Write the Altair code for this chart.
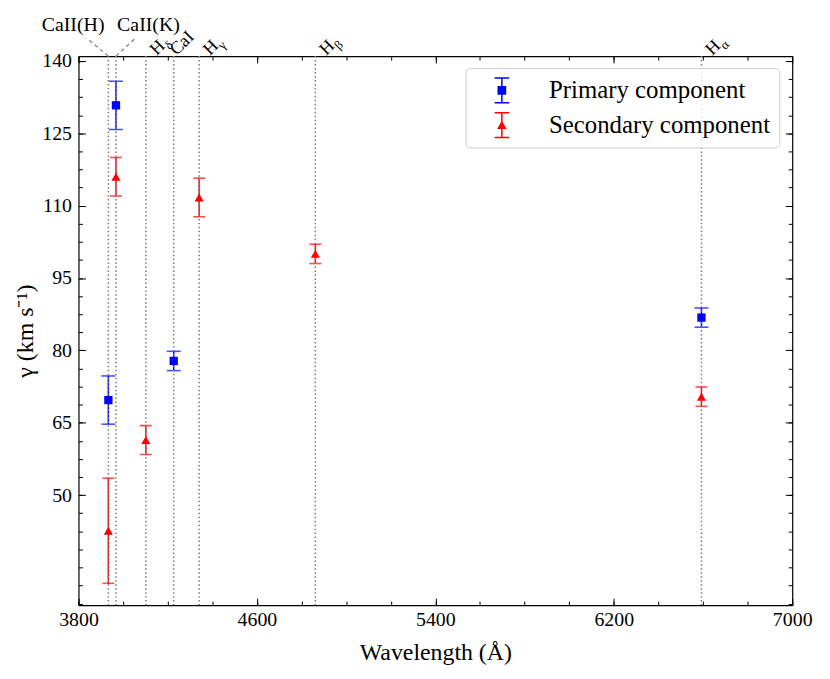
import altair as alt
import pandas as pd

FONT = "Liberation Serif"
W, H = 719, 553

# ---------------- data ----------------
prim_label = "Primary component"
sec_label = "Secondary component"

prim_wl = [3934, 3968, 4227, 6593]
prim_gamma = [69.7, 130.8, 77.8, 86.8]
prim_err = [5.0, 5.0, 2.0, 2.0]

sec_wl = [3934, 3968, 4102, 4341, 4862, 6593]
sec_gamma = [42.6, 116.0, 61.4, 111.7, 100.0, 70.4]
sec_err = [10.9, 4.0, 3.0, 4.0, 2.0, 2.0]

# spectral lines (vertical dotted lines)
line_wl = [3934, 3968, 4102, 4227, 4341, 4862, 6593]

# rotated labels at the top
h_wl = [4102, 4341, 4862, 6593]
h_main = ["H", "H", "H", "H"]
h_sub = ["δ", "γ", "β", "α"]
cai_wl = [4227]
cai_text = ["CaI"]

# annotated labels (text position + connector start, data coords)
ann_text = ["CaII(H)", "CaII(K)"]
ann_line_wl = [3934, 3968]
ann_text_wl = [3776, 4114]
ann_text_y = [146.3, 146.3]
ann_conn_wl = [3838, 4055]
ann_conn_y = [144.7, 144.7]

# axes
X_DOMAIN = [3800, 7000]
Y_DOMAIN = [27.2, 141]
x_major = [3800, 4600, 5400, 6200, 7000]
x_minor = [3800 + 200 * i for i in range(17)]
y_major = [50, 65, 80, 95, 110, 125, 140]
y_minor = [27.5 + 3.75 * i for i in range(31)]

# ---------------- tables ----------------
pts = pd.DataFrame({
    "wl": prim_wl + sec_wl,
    "gamma": prim_gamma + sec_gamma,
    "err": prim_err + sec_err,
    "series": [prim_label] * len(prim_wl) + [sec_label] * len(sec_wl),
})
pts["lo"] = pts["gamma"] - pts["err"]
pts["hi"] = pts["gamma"] + pts["err"]

lines_df = pd.DataFrame({"wl": line_wl})
h_df = pd.DataFrame({"wl": h_wl, "t": h_main, "s": h_sub})
h_df["ytop"] = Y_DOMAIN[1]
cai_df = pd.DataFrame({"wl": cai_wl, "t": cai_text})
cai_df["ytop"] = Y_DOMAIN[1]
ann_df = pd.DataFrame({
    "t": ann_text, "line": ann_line_wl, "tx": ann_text_wl, "ty": ann_text_y,
    "cx": ann_conn_wl, "cy": ann_conn_y,
})
ann_df["ytop"] = Y_DOMAIN[1]

xs = alt.Scale(domain=X_DOMAIN, nice=False, zero=False)
ys = alt.Scale(domain=Y_DOMAIN, nice=False, zero=False)
SERIES = [prim_label, sec_label]
COLORS = ["#0000ff", "#ff0000"]
cscale = alt.Scale(domain=SERIES, range=COLORS)

P_PATH = ("M-0.55,-1H0.55V-0.89H-0.55Z M-0.55,0.89H0.55V1H-0.55Z "
          "M-0.057,-1H0.057V1H-0.057Z M-0.33,-0.33H0.33V0.33H-0.33Z")
S_PATH = ("M-0.55,-1H0.55V-0.89H-0.55Z M-0.55,0.89H0.55V1H-0.55Z "
          "M-0.057,-1H0.057V1H-0.057Z M0,-0.36L0.36,0.3H-0.36Z")
sscale = alt.Scale(domain=SERIES, range=[P_PATH, S_PATH])


def tick_axis(orient, values, size, offset, domain=False):
    return alt.Axis(orient=orient, values=values, tickSize=size, ticks=True,
                    labels=False, domain=domain, offset=offset, grid=False,
                    title=None, tickColor="black", tickWidth=1,
                    domainColor="black", domainWidth=1.2)


ax_x_labels = alt.Axis(orient="bottom", values=x_major, ticks=False, tickSize=0,
                       domain=True, domainColor="black", domainWidth=1.2,
                       grid=False, format="d", labelFlush=False,
                       labelFont=FONT, labelFontSize=20, labelColor="black",
                       labelPadding=5, title="Wavelength (Å)", titleFont=FONT,
                       titleFontSize=24, titleFontWeight="normal",
                       titleColor="black", titlePadding=11)
ax_y_labels = alt.Axis(orient="left", values=y_major, ticks=False, tickSize=0,
                       domain=True, domainColor="black", domainWidth=1.2,
                       grid=False, format="d", labelFlush=False,
                       labelFont=FONT, labelFontSize=20, labelColor="black",
                       labelPadding=7, title="γ (km s⁻¹)", titleFont=FONT,
                       titleFontSize=24, titleFontWeight="normal",
                       titleColor="black", titlePadding=4)

ax_x_bot_major = tick_axis("top", x_major, 7, -H)
ax_x_bot_minor = tick_axis("top", x_minor, 4, -H)
ax_x_top_major = tick_axis("bottom", x_major, 7, -H, domain=True)
ax_x_top_minor = tick_axis("bottom", x_minor, 4, -H)
ax_y_left_major = tick_axis("right", y_major, 7, -W)
ax_y_left_minor = tick_axis("right", y_minor, 4, -W)
ax_y_right_major = tick_axis("left", y_major, 7, -W, domain=True)
ax_y_right_minor = tick_axis("left", y_minor, 4, -W)


def X(axis, field="wl:Q"):
    return alt.X(field, scale=xs, axis=axis)


def Y(field, axis):
    return alt.Y(field, scale=ys, axis=axis)


series_color = alt.condition(alt.datum.series == prim_label,
                             alt.value(COLORS[0]), alt.value(COLORS[1]))
cap_size = alt.condition(alt.datum.series == prim_label, alt.value(14), alt.value(12))

stems = alt.Chart(pts).mark_rule(strokeWidth=1.5).encode(
    x=X(ax_x_labels), y=Y("lo:Q", ax_y_labels), y2="hi:Q", color=series_color)

cap_lo = alt.Chart(pts).mark_tick(orient="horizontal", thickness=1.6).encode(
    x=X(ax_x_bot_major), y=Y("lo:Q", ax_y_left_major), color=series_color, size=cap_size)
cap_hi = alt.Chart(pts).mark_tick(orient="horizontal", thickness=1.6).encode(
    x=X(ax_x_bot_minor), y=Y("hi:Q", ax_y_left_minor), color=series_color, size=cap_size)

vlines = alt.Chart(lines_df).mark_rule(
    color="#808080", strokeWidth=1.6, strokeDash=[1.5, 2.5]).encode(x=X(None))

legend = alt.Legend(title=None, orient="none", legendX=390, legendY=12, padding=9,
                    symbolSize=700, symbolOpacity=1, symbolOffset=14,
                    symbolStrokeWidth=0, labelFont=FONT, labelFontSize=25,
                    labelColor="black", labelOffset=34, rowPadding=8,
                    labelLimit=400, strokeColor="#cccccc",
                    fillColor="rgba(255,255,255,0.8)", cornerRadius=4)

legend_layer = alt.Chart(pts).mark_point(filled=True, opacity=0, size=700).encode(
    x=X(ax_x_top_major), y=Y("gamma:Q", ax_y_right_major),
    color=alt.Color("series:N", scale=cscale, legend=legend),
    shape=alt.Shape("series:N", scale=sscale, legend=legend))

pts_p = alt.Chart(pts).transform_filter(alt.datum.series == prim_label).mark_square(
    size=70, color="#0000ff", opacity=1).encode(
    x=X(ax_x_top_minor), y=Y("gamma:Q", ax_y_right_minor))
pts_s = alt.Chart(pts).transform_filter(alt.datum.series == sec_label).mark_point(
    shape="triangle-up", filled=True, size=85, color="#ff0000", opacity=1).encode(
    x=X(None), y=Y("gamma:Q", None))

connectors = alt.Chart(ann_df).mark_rule(
    color="#808080", strokeWidth=1.2, strokeDash=[4, 3]).encode(
    x=X(None, "line:Q"), y=Y("ytop:Q", None), x2="cx:Q", y2="cy:Q")

ann_txt = alt.Chart(ann_df).mark_text(
    align="center", baseline="alphabetic", font=FONT, fontSize=20, color="black").encode(
    x=X(None, "tx:Q"), y=Y("ty:Q", None), text="t:N")

h_txt = alt.Chart(h_df).mark_text(
    angle=315, align="left", fontSize=18, font=FONT, xOffset=11, dy=-5).encode(
    x=X(None), y=Y("ytop:Q", None), text="t:N", angle=alt.value(315))
h_subtxt = alt.Chart(h_df).mark_text(
    angle=315, align="left", fontSize=13, font=FONT, xOffset=11, dx=13.5, dy=1).encode(
    x=X(None), y=Y("ytop:Q", None), text="s:N", angle=alt.value(315))
cai_txt = alt.Chart(cai_df).mark_text(
    angle=315, align="left", fontSize=18, font=FONT, xOffset=3, dy=-5).encode(
    x=X(None), y=Y("ytop:Q", None), text="t:N", angle=alt.value(315))

chart = alt.layer(
    stems, cap_lo, cap_hi, vlines, legend_layer, pts_p, pts_s,
    connectors, ann_txt, h_txt, h_subtxt, cai_txt,
).resolve_axis(x="independent", y="independent").properties(
    width=W, height=H,
    padding={"left": 71, "top": 46, "right": 30, "bottom": 70},
    autosize=alt.AutoSizeParams(type="none"),
    background="white",
).configure_view(stroke=None)

chart.save("out.html", embed_options={"renderer": "svg", "actions": False})
